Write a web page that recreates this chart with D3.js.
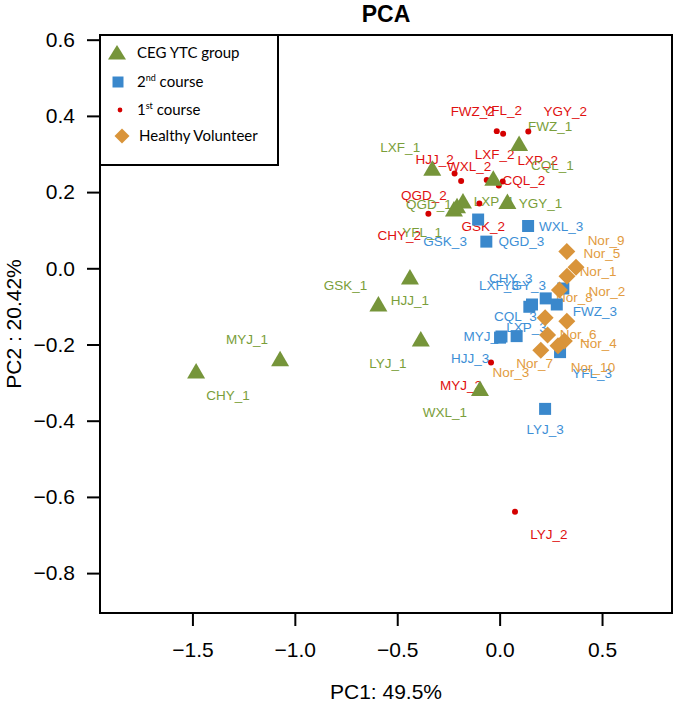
<!DOCTYPE html>
<html><head><meta charset="utf-8">
<script src="https://cdn.jsdelivr.net/npm/d3@7"></script>
<style>body{margin:0;background:#fff}svg{display:block}</style>
</head><body>
<svg id="chart" width="675" height="709"></svg>
<script>
// ---- data ----
const cegNames = ["CHY_1","MYJ_1","GSK_1","HJJ_1","LYJ_1","WXL_1","LXF_1","FWZ_1","CQL_1","LXP_1","QGD_1","YFL_1","YGY_1"];
const cegPC1   = [-1.482,-1.072,-0.592,-0.438,-0.385,-0.096,-0.329,0.095,-0.031,-0.179,-0.223,-0.208,0.038];
const cegPC2   = [-0.271,-0.239,-0.095,-0.024,-0.187,-0.317,0.261,0.326,0.235,0.175,0.154,0.163,0.174];

const course2Names = ["GSK_3","WXL_3","QGD_3","CHY_3","LXF_3","YGY_3","FWZ_3","CQL_3","MYJ_3","LXP_3","HJJ_3","YFL_3","LYJ_3"];
const course2PC1   = [-0.105,0.139,-0.065,0.225,0.158,0.311,0.279,0.145,0.083,0.009,0.002,0.295,0.222];
const course2PC2   = [0.128,0.111,0.070,-0.079,-0.095,-0.053,-0.095,-0.101,-0.178,-0.179,-0.182,-0.220,-0.369];

const course1Names = ["FWZ_2","YFL_2","YGY_2","HJJ_2","WXL_2","LXF_2","LXP_2","CQL_2","QGD_2","CHY_2","GSK_2","MYJ_2","LYJ_2"];
const course1PC1   = [-0.014,0.017,0.140,-0.220,-0.188,-0.063,0.015,-0.004,-0.223,-0.348,-0.099,-0.042,0.075];
const course1PC2   = [0.360,0.353,0.359,0.249,0.229,0.232,0.228,0.217,0.155,0.143,0.170,-0.247,-0.639];

const healthyNames = ["Nor_5","Nor_9","Nor_1","Nor_8","Nor_6","Nor_2","Nor_7","Nor_4","Nor_10","Nor_3"];
const healthyPC1   = [0.328,0.373,0.329,0.292,0.222,0.328,0.234,0.316,0.285,0.201];
const healthyPC2   = [0.044,0.003,-0.021,-0.057,-0.130,-0.139,-0.175,-0.191,-0.203,-0.215];

const xTicks = [-1.5,-1.0,-0.5,0.0,0.5];
const yTicks = [-0.8,-0.6,-0.4,-0.2,0.0,0.2,0.4,0.6];
const titleText = "PCA";
const xTitle = "PC1: 49.5%";
const yTitle = "PC2 :  20.42%";

// ---- layout (label offsets in px, not data) ----
const labelOffsets = {
  CHY_1:[32,24], MYJ_1:[-33,-20], GSK_1:[-33,-19], HJJ_1:[0,23], LYJ_1:[-33,24], WXL_1:[-35,23],
  LXF_1:[-32,-21], FWZ_1:[31,-18], CQL_1:[59,-13], LXP_1:[31,0], QGD_1:[-25,-5], YFL_1:[-35,26], YGY_1:[33,2],
  FWZ_2:[-24,-20], YFL_2:[-1,-23], YGY_2:[37,-20], HJJ_2:[-20,-14], WXL_2:[8,-15], LXF_2:[8,-25],
  LXP_2:[35,-21], CQL_2:[25,-5], QGD_2:[-30,-14], CHY_2:[-29,22], GSK_2:[4,23], MYJ_2:[-30,23], LYJ_2:[34,23],
  GSK_3:[-33,22], WXL_3:[33,0], QGD_3:[35,0], CHY_3:[-35,-20], LXF_3:[-33,-19], YGY_3:[-39,-3],
  FWZ_3:[38,7], CQL_3:[-14,10], MYJ_3:[-32,0], LXP_3:[25,-9], HJJ_3:[-30,21], YFL_3:[32,21], LYJ_3:[0,21],
  Nor_5:[35,2], Nor_9:[30,-27], Nor_1:[31,-5], Nor_8:[15,7], Nor_6:[33,17], Nor_2:[40,-30],
  Nor_7:[-13,29], Nor_4:[34,2], Nor_10:[35,22], Nor_3:[-30,22]
};

const COL = {
  green:"#76953A", greenText:"#7A9E3A",
  blue:"#3A88CC", blueText:"#3D8FD6",
  red:"#D40000", redText:"#E01010",
  orange:"#D9943A", orangeText:"#E29B40"
};

const box = {left:100, right:672, top:35, bottom:613};
const x = d3.scaleLinear().domain([-1.9513, 0.8416]).range([box.left, box.right]);
const y = d3.scaleLinear().domain([0.6123, -0.9047]).range([box.top, box.bottom]);

const svg = d3.select("#chart");
const FONT = "'Liberation Sans', Arial, sans-serif";

// title
svg.append("text").attr("x", 386).attr("y", 22).attr("text-anchor","middle")
  .attr("font-family", FONT).attr("font-weight","bold").attr("font-size", 23).text(titleText);

// axes
const xAxis = d3.axisBottom(x).tickValues(xTicks).tickFormat(d3.format(".1f")).tickSize(13).tickPadding(16);
const yAxis = d3.axisLeft(y).tickValues(yTicks).tickFormat(d3.format(".1f")).tickSize(13).tickPadding(12);
const gx = svg.append("g").attr("transform", `translate(0,${box.bottom})`).call(xAxis);
const gy = svg.append("g").attr("transform", `translate(${box.left},0)`).call(yAxis);
[gx, gy].forEach(g => {
  g.select(".domain").remove();
  g.selectAll("line").attr("stroke","#000").attr("stroke-width",2);
  g.selectAll("text").attr("font-family", FONT).attr("font-size", 21).attr("fill","#000");
});

svg.append("text").attr("x", 386).attr("y", 699).attr("text-anchor","middle")
  .attr("font-family", FONT).attr("font-size", 21).text(xTitle);
svg.append("text").attr("transform", `translate(21,${(box.top+box.bottom)/2}) rotate(-90)`)
  .attr("text-anchor","middle").attr("font-family", FONT).attr("font-size", 21).text(yTitle);

// series
const series = [
  {names:course1Names, xs:course1PC1, ys:course1PC2, shape:"dot", fill:COL.red, text:COL.redText},
  {names:course2Names, xs:course2PC1, ys:course2PC2, shape:"square", fill:COL.blue, text:COL.blueText},
  {names:cegNames, xs:cegPC1, ys:cegPC2, shape:"triangle", fill:COL.green, text:COL.greenText},
  {names:healthyNames, xs:healthyPC1, ys:healthyPC2, shape:"diamond", fill:COL.orange, text:COL.orangeText}
];

function shapePath(shape){
  if (shape==="triangle") return "M0,-8.5L9,7L-9,7Z";
  if (shape==="square") return "M-6,-6H6V6H-6Z";
  if (shape==="diamond") return "M0,-8.5L8.5,0L0,8.5L-8.5,0Z";
  return d3.symbol(d3.symbolCircle, 28)();
}

const labelLayer = svg.append("g");
const pointLayer = svg.append("g");
series.forEach(s => {
  const rows = s.names.map((n,i)=>({name:n, px:s.xs[i], py:s.ys[i]}));
  labelLayer.selectAll(null).data(rows).join("text")
    .attr("x", d => x(d.px) + labelOffsets[d.name][0])
    .attr("y", d => y(d.py) + labelOffsets[d.name][1])
    .attr("text-anchor","middle").attr("dominant-baseline","central")
    .attr("font-family", FONT).attr("font-size", 13.5).attr("fill", s.text)
    .text(d => d.name);
  pointLayer.selectAll(null).data(rows).join("path")
    .attr("transform", d => `translate(${x(d.px)},${y(d.py)})`)
    .attr("d", shapePath(s.shape)).attr("fill", s.fill);
});

// plot box
svg.append("rect").attr("x", box.left).attr("y", box.top)
  .attr("width", box.right-box.left).attr("height", box.bottom-box.top)
  .attr("fill","none").attr("stroke","#000").attr("stroke-width",2);

// legend
const leg = svg.append("g");
leg.append("rect").attr("x", box.left).attr("y", box.top).attr("width", 178).attr("height", 130)
  .attr("fill","#fff").attr("stroke","#000").attr("stroke-width",2);
const LF = "Lato, 'Open Sans', sans-serif";
const legendItems = [
  {shape:"triangle", fill:COL.green, cx:117, cy:53, tx:137, parts:[["CEG YTC group",""]]},
  {shape:"square", fill:COL.blue, cx:118, cy:82, tx:137, parts:[["2",""],["nd","sup"],[" course",""]]},
  {shape:"dot", fill:COL.red, cx:120, cy:110, tx:137, parts:[["1",""],["st","sup"],[" course",""]]},
  {shape:"diamond", fill:COL.orange, cx:122, cy:136, tx:139, parts:[["Healthy Volunteer",""]]}
];
legendItems.forEach(it => {
  let d = shapePath(it.shape);
  if (it.shape==="square") d = "M-5.5,-5.5H5.5V5.5H-5.5Z";
  if (it.shape==="dot") d = d3.symbol(d3.symbolCircle, 18)();
  if (it.shape==="diamond") d = "M0,-7.5L7.5,0L0,7.5L-7.5,0Z";
  if (it.shape==="triangle") d = "M0,-8L9,6.5L-9,6.5Z";
  leg.append("path").attr("transform", `translate(${it.cx},${it.cy})`).attr("d", d).attr("fill", it.fill);
  const t = leg.append("text").attr("x", it.tx).attr("y", it.cy + 5)
    .attr("font-family", LF).attr("font-size", 15).attr("fill","#000");
  it.parts.forEach(([txt, kind]) => {
    const ts = t.append("tspan").text(txt);
    if (kind==="sup") ts.attr("font-size", 9).attr("dy", -6);
    else if (t.selectAll("tspan").size()>1) ts.attr("dy", 6);
  });
});
</script>
</body></html>
